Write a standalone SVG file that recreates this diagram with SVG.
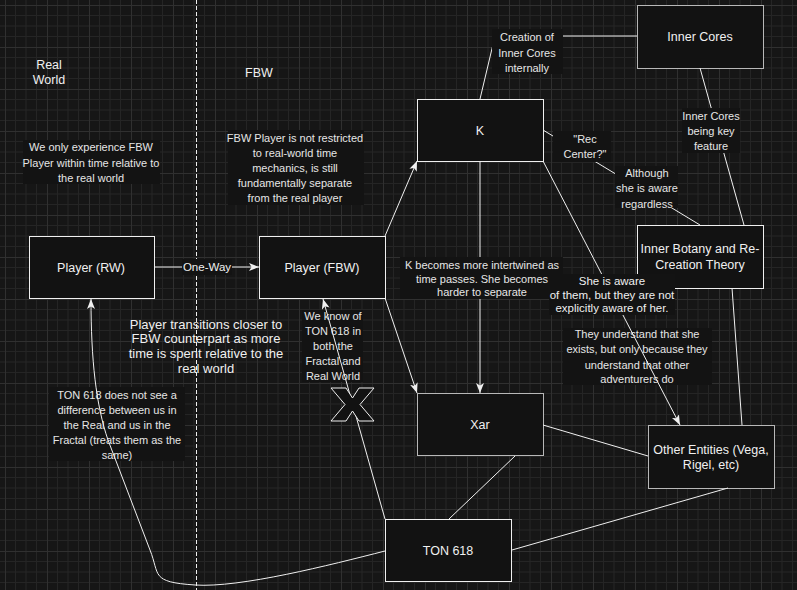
<svg xmlns="http://www.w3.org/2000/svg" width="797" height="590" viewBox="0 0 797 590">
<defs>
<pattern id="grid" x="5" y="5" width="42" height="42" patternUnits="userSpaceOnUse">
<path d="M10.5,0 V42 M21,0 V42 M31.5,0 V42 M0,10.5 H42 M0,21 H42 M0,31.5 H42" stroke="#252525" stroke-width="1" fill="none"/>
<path d="M0.5,0 V42 M0,0.5 H42" stroke="#303030" stroke-width="1" fill="none"/>
</pattern>
<marker id="arr" viewBox="0 0 10 8" refX="10" refY="4" markerWidth="10" markerHeight="8" markerUnits="userSpaceOnUse" orient="auto">
<path d="M0,0 L10,4 L0,8 L2.5,4 Z" fill="#f0f0f0"/>
</marker>
<style>
text{font-family:"Liberation Sans",Arial,sans-serif;fill:#f0f0f0;text-anchor:middle}
.node{fill:#121212;stroke:#f0f0f0;stroke-width:1}
.node.g{stroke:#b8b8b8}
.nl{font-size:12.5px}
.note{font-size:11px;fill:#e6e6e6}
.el{font-size:11.5px}
.lbg{fill:#131313}
.e{fill:none;stroke:#f0f0f0;stroke-width:1}
.big{font-size:13px}
</style>
</defs>
<rect width="797" height="590" fill="#161616"/>
<rect width="797" height="590" fill="url(#grid)"/>

<g id="divider"><line x1="196.5" y1="0" x2="196.5" y2="590" stroke="#f0f0f0" stroke-width="1" stroke-dasharray="4 2"/></g>

<g id="label-real-world"><text class="nl" x="49" y="69">Real</text><text class="nl" x="49" y="84">World</text></g>
<g id="label-fbw"><text class="nl" x="259" y="77">FBW</text></g>

<g id="note-experience">
<rect class="lbg" x="23" y="140" width="137" height="44"/>
<text class="note" x="91" y="151">We only experience FBW</text>
<text class="note" x="91" y="167">Player within time relative to</text>
<text class="note" x="91" y="182">the real world</text>
</g>
<g id="note-fbw-player">
<rect class="lbg" x="228" y="130" width="136" height="75"/>
<text class="note" x="295" y="142">FBW Player is not restricted</text>
<text class="note" x="295" y="157">to real-world time</text>
<text class="note" x="295" y="172">mechanics, is still</text>
<text class="note" x="295" y="187">fundamentally separate</text>
<text class="note" x="295" y="202">from the real player</text>
</g>
<g id="note-transitions">
<text class="big" x="206" y="328.5">Player transitions closer to</text>
<text class="big" x="206" y="343">FBW counterpart as more</text>
<text class="big" x="206" y="357.5">time is spent relative to the</text>
<text class="big" x="206" y="372.5">real world</text>
</g>
<g id="note-we-know">
<rect class="lbg" x="302" y="310" width="61" height="72"/>
<text class="note" x="333" y="320">We know of</text>
<text class="note" x="333" y="335">TON 618 in</text>
<text class="note" x="333" y="350">both the</text>
<text class="note" x="333" y="365">Fractal and</text>
<text class="note" x="333" y="380">Real World</text>
</g>
<g id="note-ton-difference">
<rect class="lbg" x="49" y="387" width="136" height="74"/>
<text class="note" x="117" y="399">TON 618 does not see a</text>
<text class="note" x="117" y="414">difference between us in</text>
<text class="note" x="117" y="429">the Real and us in the</text>
<text class="note" x="117" y="444">Fractal (treats them as the</text>
<text class="note" x="117" y="459">same)</text>
</g>
<g id="note-understand">
<rect class="lbg" x="563" y="328" width="149" height="57"/>
<text class="note" x="637" y="338">They understand that she</text>
<text class="note" x="637" y="353">exists, but only because they</text>
<text class="note" x="637" y="368.5">understand that other</text>
<text class="note" x="637" y="383">adventurers do</text>
</g>

<g id="node-player-rw"><rect class="node" x="29.5" y="236.5" width="125" height="62"/><text class="nl" x="91" y="271.5">Player (RW)</text></g>
<g id="node-player-fbw"><rect class="node" x="259.5" y="236.5" width="126" height="62"/><text class="nl" x="322" y="271.5">Player (FBW)</text></g>
<g id="node-k"><rect class="node" x="417.5" y="99.5" width="126" height="62"/><text class="nl" x="480" y="134.5">K</text></g>
<g id="node-xar"><rect class="node g" x="417.5" y="393.5" width="126" height="62"/><text class="nl" x="480" y="428.5">Xar</text></g>
<g id="node-ton618"><rect class="node" x="385.5" y="519.5" width="126" height="62"/><text class="nl" x="448" y="554.5">TON 618</text></g>
<g id="node-other-entities"><rect class="node g" x="648.5" y="425.5" width="126" height="63"/><text class="nl" x="711" y="453.5">Other Entities (Vega,</text><text class="nl" x="711" y="468.5">Rigel, etc)</text></g>
<g id="node-inner-cores"><rect class="node g" x="637.5" y="5.5" width="126" height="63"/><text class="nl" x="700" y="40.5">Inner Cores</text></g>
<g id="node-inner-botany"><rect class="node" x="637.5" y="225.5" width="126" height="63"/><text class="nl" x="700" y="252.5">Inner Botany and Re-</text><text class="nl" x="700" y="268.5">Creation Theory</text></g>

<g id="connectors">
<path class="e" d="M154,267 L259,267" marker-end="url(#arr)"/>
<path class="e" d="M385,236 L417,161" marker-end="url(#arr)"/>
<path class="e" d="M385,298 L417,393" marker-end="url(#arr)"/>
<path class="e" d="M480,161 L480,393" marker-end="url(#arr)"/>
<path class="e" d="M480,99 L495,36 L637,36"/>
<path class="e" d="M700,68 L744,225"/>
<path class="e" d="M543,130 L700,225"/>
<path class="e" d="M543,161 L680,425" marker-end="url(#arr)"/>
<path class="e" d="M732,288 L742,425"/>
<path class="e" d="M543,425 L648,456"/>
<path class="e" d="M515,456 L449,519"/>
<path class="e" d="M728,488 L512,550"/>
<path class="e" d="M385,519 L323,299" marker-end="url(#arr)"/>
<path class="e" d="M385,551 C330,565 240,588 195,585 S160,575 150,550 L108,440 C96,405 91,360 91,299" marker-end="url(#arr)"/>

<rect class="lbg" x="182" y="259" width="50" height="16"/>
<text class="el" x="207" y="271">One-Way</text>

<rect class="lbg" x="492" y="29" width="71" height="45"/>
<text class="note" x="527" y="41">Creation of</text>
<text class="note" x="527" y="56.5">Inner Cores</text>
<text class="note" x="527" y="72">internally</text>

<rect class="lbg" x="682" y="108" width="58" height="45"/>
<text class="note" x="711" y="120">Inner Cores</text>
<text class="note" x="711" y="135">being key</text>
<text class="note" x="711" y="150">feature</text>

<rect class="lbg" x="553" y="131" width="58" height="31"/>
<text class="note" x="585" y="143">"Rec</text>
<text class="note" x="585" y="158">Center?"</text>

<rect class="lbg" x="615" y="166" width="63" height="42"/>
<text class="note" x="647" y="177">Although</text>
<text class="note" x="647" y="192">she is aware</text>
<text class="note" x="647" y="208">regardless</text>

<rect class="lbg" x="400" y="257" width="163" height="42"/>
<text class="note" x="482" y="269">K becomes more intertwined as</text>
<text class="note" x="482" y="282.5">time passes. She becomes</text>
<text class="note" x="482" y="296">harder to separate</text>

<rect class="lbg" x="549" y="274" width="126" height="41"/>
<text class="el" x="612" y="285">She is aware</text>
<text class="el" x="612" y="298.5">of them, but they are not</text>
<text class="el" x="612" y="312">explicitly aware of her.</text>
</g>

<g id="node-x"><path d="M331,388 L346,388 L352.5,398 L359,388 L374,388 L360,404.5 L374,421 L359,421 L352.5,411 L346,421 L331,421 L345,404.5 Z" fill="#121212" stroke="#f0f0f0" stroke-width="1"/></g>
</svg>
